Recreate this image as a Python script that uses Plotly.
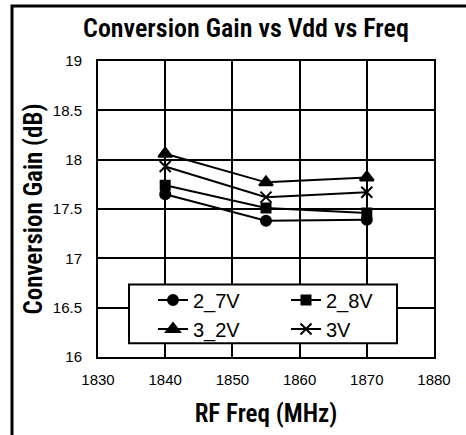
import plotly.graph_objects as go

freq = [1840, 1855, 1870]
gain_2_7V = [17.65, 17.38, 17.39]
gain_2_8V = [17.74, 17.51, 17.46]
gain_3_2V = [18.06, 17.77, 17.82]
gain_3V = [17.93, 17.62, 17.67]
names = ["2_7V", "2_8V", "3_2V", "3V"]

series = [
    (names[0], gain_2_7V, "circle", 10),
    (names[1], gain_2_8V, "square", 9),
    (names[2], gain_3_2V, "triangle-up", 12),
    (names[3], gain_3V, "x-thin", 11),
]

fig = go.Figure()
for name, vals, sym, size in series:
    fig.add_trace(go.Scatter(
        x=freq, y=vals, name=name, mode="lines+markers",
        line=dict(color="black", width=2),
        marker=dict(symbol=sym, size=size, color="black",
                    line=dict(color="black", width=2)),
    ))

OFF = 0  # page body margin removed by post_script
W, H = 466, 435
pw, ph = 336, 302
L, T = 98 - OFF, 61 - OFF
R, B = W - L - pw, H - T - ph
TFONT = "Roboto Condensed, Liberation Sans"

def px_x(p):
    return (p - OFF - L) / pw

def px_y(p):
    return 1 - (p - OFF - T) / ph

fig.update_layout(
    width=W, height=H,
    margin=dict(l=L, r=R, t=T, b=B, pad=0),
    paper_bgcolor="white", plot_bgcolor="white",
    font=dict(family="Liberation Sans, Arial, sans-serif", color="black", size=14),
    title=dict(text="Conversion Gain vs Vdd vs Freq",
               font=dict(family=TFONT, size=26, weight=600),
               x=(246 - OFF) / W, xanchor="center", xref="container",
               y=1 - (28 - OFF) / H, yanchor="middle", yref="container"),
    showlegend=True,
    legend=dict(orientation="h", x=px_x(153), y=px_y(285),
                xanchor="left", yanchor="top",
                bgcolor="rgba(0,0,0,0)", borderwidth=0,
                font=dict(size=20), tracegroupgap=0, itemwidth=30,
                entrywidth=88),
    shapes=[
        dict(type="rect", xref="paper", yref="paper",
             x0=px_x(12), x1=px_x(W + 20), y0=px_y(H + 20), y1=px_y(5),
             line=dict(color="black", width=3), layer="below"),
        dict(type="rect", xref="paper", yref="paper",
             x0=px_x(129), x1=px_x(397), y0=px_y(349), y1=px_y(289),
             line=dict(color="black", width=2), fillcolor="white",
             layer="above"),
    ],
)

fig.update_xaxes(
    range=[1830, 1880], dtick=10, tick0=1830,
    showgrid=True, gridcolor="black", gridwidth=2,
    showline=True, linecolor="black", linewidth=2, mirror=True,
    ticks="", ticklabelstandoff=8, zeroline=False,
    tickfont=dict(size=15),
    title=dict(text="RF Freq (MHz)",
               font=dict(family=TFONT, size=25, weight=600),
               standoff=17),
)
fig.update_yaxes(
    range=[16, 19], dtick=0.5, tick0=16,
    showgrid=True, gridcolor="black", gridwidth=2,
    showline=True, linecolor="black", linewidth=2, mirror=True,
    ticks="", ticklabelstandoff=11, zeroline=False,
    tickfont=dict(size=15),
    title=dict(text="Conversion Gain (dB)",
               font=dict(family=TFONT, size=25, weight=600),
               standoff=3),
)

fig.write_html("out.html",
               config={"displayModeBar": False},
               post_script="document.body.style.margin='0';document.body.style.overflow='hidden';")
